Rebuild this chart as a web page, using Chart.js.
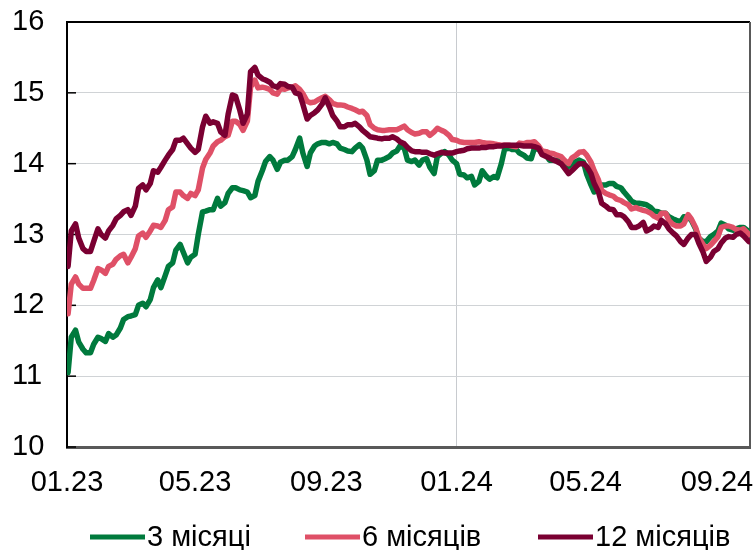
<!DOCTYPE html>
<html><head><meta charset="utf-8">
<script src="https://cdn.jsdelivr.net/npm/chart.js@4.4.1/dist/chart.umd.min.js"></script>
<style>html,body{margin:0;padding:0;background:#fff;}</style>
</head><body>
<canvas id="c" width="756" height="550"></canvas>
<script>
const dates = [
'2023-01-02','2023-01-05','2023-01-09','2023-01-12','2023-01-16','2023-01-19','2023-01-23','2023-01-26','2023-01-30','2023-02-02',
'2023-02-06','2023-02-09','2023-02-13','2023-02-16','2023-02-20','2023-02-23','2023-02-27','2023-03-02','2023-03-06','2023-03-09',
'2023-03-13','2023-03-16','2023-03-20','2023-03-23','2023-03-27','2023-03-30','2023-04-03','2023-04-06','2023-04-10','2023-04-13',
'2023-04-17','2023-04-20','2023-04-24','2023-04-27','2023-05-01','2023-05-04','2023-05-08','2023-05-11','2023-05-15','2023-05-18',
'2023-05-22','2023-05-25','2023-05-29','2023-06-01','2023-06-05','2023-06-08','2023-06-12','2023-06-15','2023-06-19','2023-06-22',
'2023-06-26','2023-06-29','2023-07-03','2023-07-06','2023-07-10','2023-07-13','2023-07-17','2023-07-20','2023-07-24','2023-07-27',
'2023-07-31','2023-08-03','2023-08-07','2023-08-10','2023-08-14','2023-08-17','2023-08-21','2023-08-24','2023-08-28','2023-08-31',
'2023-09-04','2023-09-07','2023-09-11','2023-09-14','2023-09-18','2023-09-21','2023-09-25','2023-09-28','2023-10-02','2023-10-05',
'2023-10-09','2023-10-12','2023-10-16','2023-10-19','2023-10-23','2023-10-26','2023-10-30','2023-11-02','2023-11-06','2023-11-09',
'2023-11-13','2023-11-16','2023-11-20','2023-11-23','2023-11-27','2023-11-30','2023-12-04','2023-12-07','2023-12-11','2023-12-14',
'2023-12-18','2023-12-21','2023-12-25','2023-12-28','2024-01-01','2024-01-04','2024-01-08','2024-01-11','2024-01-15','2024-01-18',
'2024-01-22','2024-01-25','2024-01-29','2024-02-01','2024-02-05','2024-02-08','2024-02-12','2024-02-15','2024-02-19','2024-02-22',
'2024-02-26','2024-02-29','2024-03-04','2024-03-07','2024-03-11','2024-03-14','2024-03-18','2024-03-21','2024-03-25','2024-03-28',
'2024-04-01','2024-04-04','2024-04-08','2024-04-11','2024-04-15','2024-04-18','2024-04-22','2024-04-25','2024-04-29','2024-05-02',
'2024-05-06','2024-05-09','2024-05-13','2024-05-16','2024-05-20','2024-05-23','2024-05-27','2024-05-30','2024-06-03','2024-06-06',
'2024-06-10','2024-06-13','2024-06-17','2024-06-20','2024-06-24','2024-06-27','2024-07-01','2024-07-04','2024-07-08','2024-07-11',
'2024-07-15','2024-07-18','2024-07-22','2024-07-25','2024-07-29','2024-08-01','2024-08-05','2024-08-08','2024-08-12','2024-08-15',
'2024-08-19','2024-08-22','2024-08-26','2024-08-29','2024-09-02','2024-09-05','2024-09-09','2024-09-12','2024-09-16','2024-09-19',
'2024-09-23','2024-09-26','2024-10-01'
];
const rate3m = [
11.05,11.55,11.65,11.48,11.38,11.33,11.33,11.45,11.55,11.53,
11.49,11.60,11.55,11.58,11.68,11.80,11.84,11.85,11.87,12.00,
12.03,11.98,12.08,12.25,12.36,12.25,12.42,12.55,12.60,12.78,
12.86,12.75,12.60,12.68,12.72,13.00,13.32,13.33,13.35,13.35,
13.51,13.40,13.45,13.58,13.66,13.66,13.63,13.62,13.60,13.52,
13.55,13.75,13.90,14.03,14.10,14.05,13.92,14.02,14.05,14.05,
14.10,14.20,14.36,14.15,13.96,14.15,14.25,14.28,14.30,14.30,
14.28,14.30,14.28,14.22,14.20,14.18,14.17,14.22,14.27,14.22,
14.05,13.85,13.90,14.05,14.05,14.07,14.10,14.15,14.18,14.25,
14.22,14.05,14.03,14.05,13.98,14.05,14.07,13.95,13.86,14.10,
14.15,14.17,14.12,14.05,14.00,13.85,13.84,13.80,13.82,13.70,
13.75,13.90,13.82,13.78,13.82,13.80,14.00,14.20,14.22,14.20,
14.20,14.15,14.12,14.08,14.07,14.22,14.20,14.15,14.12,14.05,
14.05,14.05,14.03,14.00,13.96,14.00,14.03,14.05,14.02,13.85,
13.70,13.60,13.63,13.70,13.70,13.72,13.72,13.68,13.66,13.60,
13.53,13.47,13.44,13.44,13.43,13.42,13.38,13.33,13.32,13.30,
13.30,13.25,13.22,13.20,13.18,13.25,13.25,13.20,13.08,12.95,
12.90,12.90,12.97,13.00,13.05,13.16,13.13,13.08,13.06,13.08,
13.10,13.10,13.04
];
const rate6m = [
11.88,12.30,12.40,12.30,12.24,12.24,12.24,12.35,12.52,12.50,
12.45,12.55,12.58,12.65,12.70,12.72,12.60,12.68,12.80,12.98,
13.02,12.96,13.05,13.13,13.12,13.10,13.20,13.35,13.39,13.60,
13.60,13.55,13.51,13.58,13.55,13.63,13.94,14.06,14.15,14.25,
14.31,14.33,14.38,14.40,14.60,14.60,14.55,14.47,14.60,15.08,
15.18,15.07,15.08,15.07,15.05,15.00,14.98,15.06,15.05,15.07,
15.08,15.10,15.05,14.99,14.88,14.86,14.87,14.90,14.93,14.95,
14.90,14.85,14.83,14.83,14.82,14.80,14.78,14.76,14.73,14.74,
14.68,14.55,14.50,14.48,14.47,14.47,14.48,14.48,14.48,14.50,
14.53,14.48,14.44,14.42,14.43,14.45,14.45,14.40,14.45,14.50,
14.47,14.45,14.40,14.34,14.33,14.31,14.30,14.30,14.30,14.30,
14.31,14.30,14.29,14.29,14.28,14.27,14.26,14.26,14.26,14.25,
14.24,14.29,14.28,14.30,14.30,14.31,14.25,14.18,14.17,14.15,
14.14,14.12,14.10,14.05,14.00,14.08,14.12,14.16,14.17,14.12,
14.02,13.90,13.77,13.62,13.58,13.56,13.54,13.50,13.48,13.45,
13.42,13.36,13.38,13.36,13.34,13.33,13.30,13.26,13.23,13.30,
13.30,13.20,13.14,13.12,13.12,13.15,13.28,13.22,13.10,12.96,
12.86,12.80,12.85,12.90,12.97,13.10,13.12,13.12,13.10,13.07,
13.06,13.08,13.00
];
const rate12m = [
12.55,13.05,13.15,12.95,12.80,12.76,12.76,12.90,13.08,13.00,
12.95,13.05,13.13,13.22,13.27,13.32,13.35,13.27,13.40,13.65,
13.70,13.63,13.72,13.90,13.88,13.95,14.05,14.12,14.20,14.33,
14.33,14.36,14.28,14.22,14.16,14.20,14.52,14.67,14.57,14.59,
14.57,14.45,14.40,14.70,14.97,14.95,14.75,14.57,14.70,15.30,
15.36,15.25,15.20,15.18,15.15,15.10,15.08,15.13,15.12,15.09,
15.08,15.00,14.98,14.84,14.63,14.68,14.72,14.76,14.84,14.93,
14.80,14.68,14.60,14.52,14.52,14.55,14.55,14.57,14.52,14.47,
14.42,14.38,14.37,14.36,14.35,14.36,14.36,14.38,14.35,14.31,
14.28,14.23,14.18,14.17,14.17,14.16,14.16,14.14,14.12,14.14,
14.16,14.15,14.15,14.15,14.17,14.18,14.19,14.21,14.22,14.22,
14.22,14.23,14.23,14.24,14.24,14.25,14.25,14.26,14.26,14.26,
14.26,14.26,14.25,14.25,14.25,14.24,14.22,14.13,14.10,14.08,
14.05,14.03,14.00,13.94,13.86,13.90,13.96,14.00,14.00,13.96,
13.86,13.72,13.60,13.44,13.40,13.36,13.35,13.28,13.28,13.25,
13.18,13.10,13.10,13.12,13.17,13.05,13.08,13.12,13.10,13.20,
13.15,13.08,13.02,12.98,12.90,12.86,12.95,13.00,13.00,12.88,
12.75,12.62,12.68,12.76,12.80,12.88,12.95,12.97,12.96,13.00,
13.02,12.98,12.90
];
const seriesNames = ['3 місяці', '6 місяців', '12 місяців'];
const seriesColors = ['#007a3d', '#df5067', '#7a0032'];
const tickDates = ['2023-01-01','2023-05-01','2023-09-01','2024-01-01','2024-05-01','2024-09-01'];
const tickLabels = ['01.23','05.23','09.23','01.24','05.24','09.24'];
const axisStart = '2023-01-01';
const axisEnd = '2024-10-02';
const yMin = 10, yMax = 16, yStep = 1;

const FONT = '"Liberation Sans", Arial, sans-serif';
const FONT_SIZE = 29;
const legendItemX = [90, 305, 538];
const legendY = 537;

const dayOf = s => { const [y, m, d] = s.split('-').map(Number); return (Date.UTC(y, m - 1, d) - Date.UTC(2023, 0, 1)) / 86400000; };
const tickDays = tickDates.map(dayOf);
const yearLineDay = dayOf('2024-01-01');
const toPoints = arr => arr.map((v, i) => ({ x: dayOf(dates[i]), y: v }));

Chart.defaults.font.family = FONT;
Chart.defaults.color = '#000';

const frame = {
  id: 'frame',
  beforeDatasetsDraw(chart) {
    const { ctx, chartArea: a, scales: { y } } = chart;
    ctx.save();
    ctx.lineWidth = 2;
    ctx.strokeStyle = '#000';
    ctx.beginPath(); ctx.moveTo(a.left, a.top); ctx.lineTo(a.right, a.top); ctx.stroke();
    ctx.strokeStyle = '#595959';
    ctx.beginPath(); ctx.moveTo(a.right, a.top); ctx.lineTo(a.right, a.bottom); ctx.stroke();
    ctx.strokeStyle = '#000';
    ctx.lineWidth = 1.5;
    y.ticks.forEach(t => {
      const py = y.getPixelForValue(t.value);
      ctx.beginPath(); ctx.moveTo(a.left, py); ctx.lineTo(a.left + 9, py); ctx.stroke();
    });
    ctx.restore();
  }
};

const lineLegend = {
  id: 'lineLegend',
  afterDraw(chart) {
    const ctx = chart.ctx;
    ctx.save();
    ctx.font = FONT_SIZE + 'px ' + FONT;
    ctx.textBaseline = 'middle';
    ctx.textAlign = 'left';
    chart.data.datasets.forEach((ds, i) => {
      const x = legendItemX[i];
      ctx.strokeStyle = ds.borderColor;
      ctx.lineWidth = 5;
      ctx.beginPath(); ctx.moveTo(x, legendY); ctx.lineTo(x + 55, legendY); ctx.stroke();
      ctx.fillStyle = '#000';
      ctx.fillText(ds.label, x + 57, legendY + 1);
    });
    ctx.restore();
  }
};

const series = [rate3m, rate6m, rate12m];
new Chart(document.getElementById('c'), {
  type: 'line',
  data: {
    datasets: series.map((arr, i) => ({
      label: seriesNames[i],
      data: toPoints(arr),
      borderColor: seriesColors[i],
      backgroundColor: seriesColors[i],
      borderWidth: 5.5,
      borderJoinStyle: 'round',
      borderCapStyle: 'round',
      pointRadius: 0,
      tension: 0,
      order: 3 - i
    }))
  },
  options: {
    responsive: false,
    devicePixelRatio: 1,
    animation: false,
    layout: { padding: { left: 12, top: 22, right: 6, bottom: 0 } },
    plugins: {
      tooltip: { enabled: false },
      legend: { display: false }
    },
    scales: {
      x: {
        type: 'linear',
        min: dayOf(axisStart),
        max: dayOf(axisEnd),
        afterBuildTicks: s => { s.ticks = tickDays.map(v => ({ value: v })); },
        afterFit: s => { s.height = 103; },
        ticks: {
          font: { size: FONT_SIZE, lineHeight: 2.48 },
          color: '#000',
          padding: 0,
          maxRotation: 0,
          autoSkip: false,
          callback: v => tickLabels[tickDays.indexOf(v)]
        },
        grid: {
          drawTicks: false,
          lineWidth: 1,
          color: c => (c.tick && c.tick.value === yearLineDay) ? '#c8cbcf' : 'rgba(0,0,0,0)'
        },
        border: { color: '#595959', width: 3 }
      },
      y: {
        min: yMin,
        max: yMax,
        afterFit: s => { s.width = 55; },
        ticks: { stepSize: yStep, font: { size: FONT_SIZE }, color: '#000', padding: 0, crossAlign: 'far' },
        grid: {
          drawTicks: false,
          lineWidth: 1,
          color: c => (c.tick && (c.tick.value === yMin || c.tick.value === yMax)) ? 'rgba(0,0,0,0)' : '#d0d3d6'
        },
        border: { color: '#000', width: 2 }
      }
    }
  },
  plugins: [frame, lineLegend]
});
</script>
</body></html>
